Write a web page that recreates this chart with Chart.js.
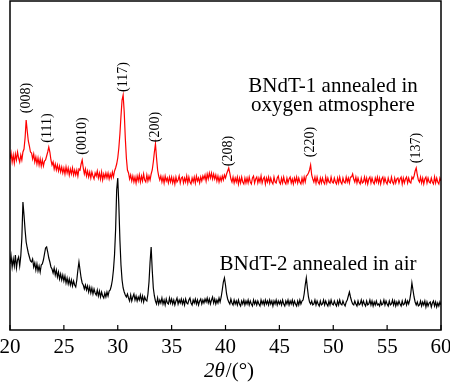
<!DOCTYPE html>
<html>
<head>
<meta charset="utf-8">
<script src="https://cdn.jsdelivr.net/npm/chart.js@4.4.1/dist/chart.umd.min.js"></script>
<style>
html,body{margin:0;padding:0;background:#fff;}
#wrap{width:450px;height:382px;position:relative;}
</style>
</head>
<body>
<div id="wrap"><canvas id="c" width="450" height="382"></canvas></div>
<script>
// 2theta grid: 20.0 .. 60.0 step 0.1
const twoTheta = [];
for (let i = 0; i <= 400; i++) twoTheta.push(+(20 + i * 0.1).toFixed(1));

// BNdT-1 annealed in oxygen atmosphere (red, offset upward), arbitrary intensity
const bndt1 = [
171,177,168,175,167,176,170,178,172,168,
175,170,178,181,192,210,199,189,184,178,
177,171,176,168,173,166,172,165,171,164,
170,164,169,170,174,178,183,178,170,165,
168,161,166,160,165,159,164,158,163,157,
162,156,163,157,162,155,161,156,162,155,
160,155,160,154,161,160,166,170,162,156,
161,154,159,153,158,152,158,154,151,157,
154,159,152,157,151,158,150,156,152,157,
152,157,151,156,152,158,153,159,162,166,
172,182,196,214,230,235,218,192,172,160,
157,151,155,149,154,148,153,147,154,149,
155,148,154,149,156,150,148,155,149,154,
150,156,160,168,178,186,172,160,154,150,
154,148,153,147,154,149,152,147,153,148,
153,147,152,146,153,148,150,154,147,152,
153,147,152,148,154,147,153,148,146,152,
148,153,147,154,149,152,147,153,149,154,
151,155,149,156,151,157,152,157,151,156,
151,155,149,154,148,153,149,154,150,155,
152,156,159,162,157,151,148,153,147,152,
148,153,146,152,147,153,148,146,152,147,
152,147,153,148,146,152,154,147,151,153,
147,152,148,154,147,151,153,146,152,148,
153,147,152,148,146,153,148,147,152,154,
148,146,152,147,153,148,146,152,147,151,
153,147,151,146,152,148,153,147,152,148,
146,152,147,153,148,154,155,157,160,165,
155,151,148,153,147,153,148,146,152,147,
152,148,146,153,147,152,148,147,153,148,
147,152,148,146,152,147,153,148,146,152,
148,147,153,148,152,147,153,153,156,151,
148,153,147,152,148,146,152,147,148,153,
147,152,146,151,153,147,152,148,146,152,
148,153,147,152,146,151,153,147,152,148,
146,152,148,147,153,148,146,152,147,151,
152,147,151,153,146,152,147,151,153,147,
152,148,147,153,151,154,159,162,155,150,
148,153,147,152,146,151,153,147,152,148,
147,152,148,146,153,147,152,148,146,152,
149
];

// BNdT-2 annealed in air (black)
const bndt2 = [
66,74,63,71,64,75,62,70,73,64,
74,92,128,115,100,88,82,77,73,69,
68,71,63,67,60,66,59,64,58,65,
66,70,76,82,83,78,72,68,63,61,
57,62,55,60,53,58,51,56,50,55,
49,54,47,52,46,51,45,50,44,49,
45,43,50,60,68,60,52,47,45,41,
45,40,44,38,43,37,42,36,41,37,
35,40,34,39,33,38,34,32,37,33,
38,34,39,40,44,50,60,75,100,140,
152,125,90,65,50,42,38,35,33,36,
32,29,35,29,33,36,30,34,29,33,
30,35,29,34,28,33,30,29,36,48,
68,83,60,42,34,29,26,32,26,30,
27,32,26,30,25,31,27,26,32,27,
31,26,30,25,29,32,26,30,27,31,
26,30,25,31,27,26,30,32,27,25,
30,27,31,26,30,25,29,31,26,30,
27,31,28,32,27,31,26,30,33,27,
31,26,30,27,32,28,33,40,48,52,
45,36,31,28,26,31,27,25,30,26,
29,25,30,26,24,29,26,30,25,29,
26,30,25,29,26,24,30,26,29,25,
29,26,24,30,26,29,25,30,26,29,
25,30,26,29,24,29,26,30,25,29,
26,29,25,30,26,24,29,26,30,25,
29,26,30,25,29,26,24,29,25,30,
26,29,30,36,45,52,42,33,28,26,
29,25,26,30,25,29,26,24,29,25,
26,30,25,29,26,24,29,25,30,26,
25,29,26,24,29,25,30,26,25,29,
26,24,28,30,34,38,33,29,26,25,
29,26,24,29,25,26,30,25,29,26,
24,29,25,26,30,25,29,24,28,25,
29,25,26,24,29,25,26,30,25,29,
26,24,29,25,26,30,25,29,24,28,
25,29,26,24,29,25,26,30,25,29,
26,30,37,47,40,33,28,25,28,24,
25,29,24,28,25,29,23,28,24,27,
28,23,27,29,24,28,23,27,24,28,
25
];

const xTicks = [20, 25, 30, 35, 40, 45, 50, 55, 60];
const peakLabels = ['(008)', '(111)', '(0010)', '(117)', '(200)', '(208)', '(220)', '(137)'];
const peakAt = [21.5, 23.5, 26.7, 30.5, 33.5, 40.3, 47.9, 57.7];
const peakLabelY = [98, 128, 136, 77, 127, 151, 142, 148];
const seriesNames = ['BNdT-1 annealed in oxygen atmosphere', 'BNdT-2 annealed in air'];

const serif = '"Liberation Serif", "Times New Roman", serif';

const decor = {
  id: 'decor',
  afterDraw(chart) {
    const ctx = chart.ctx, a = chart.chartArea, xs = chart.scales.x;
    ctx.save();
    // frame
    ctx.strokeStyle = '#000'; ctx.lineWidth = 1.5;
    ctx.strokeRect(a.left, a.top, a.right - a.left, a.bottom - a.top);
    // inward ticks and tick labels
    ctx.lineWidth = 1.2;
    ctx.fillStyle = '#000';
    ctx.font = '21px ' + serif;
    ctx.textAlign = 'center'; ctx.textBaseline = 'alphabetic';
    xTicks.forEach(v => {
      const px = xs.getPixelForValue(v);
      ctx.beginPath(); ctx.moveTo(px, a.bottom); ctx.lineTo(px, a.bottom - 5); ctx.stroke();
      ctx.fillText(String(v), px, a.bottom + 23);
    });
    // peak labels
    ctx.font = '14px ' + serif;
    ctx.textBaseline = 'middle';
    peakLabels.forEach((t, i) => {
      const px = xs.getPixelForValue(peakAt[i]);
      ctx.save(); ctx.translate(px, peakLabelY[i]); ctx.rotate(-Math.PI / 2);
      ctx.fillText(t, 0, 0); ctx.restore();
    });
    // series annotations
    ctx.font = '21px ' + serif;
    ctx.textBaseline = 'alphabetic';
    ctx.fillText('BNdT-1 annealed in', 333, 92);
    ctx.fillText('oxygen atmosphere', 333, 111);
    ctx.fillText(seriesNames[1], 318, 270);
    // axis title 2θ/(°)
    const p1 = '2θ', p2 = '/(°)';
    ctx.font = 'italic 21px ' + serif;
    const w1 = ctx.measureText(p1).width;
    ctx.font = '21px ' + serif;
    const w2 = ctx.measureText(p2).width;
    const cx = (a.left + a.right) / 2 + 3;
    const x0 = cx - (w1 + w2) / 2;
    ctx.textAlign = 'left';
    ctx.font = 'italic 21px ' + serif;
    ctx.fillText(p1, x0, 377);
    ctx.font = '21px ' + serif;
    ctx.fillText(p2, x0 + w1 + 1, 377);
    ctx.restore();
  }
};

new Chart(document.getElementById('c'), {
  type: 'line',
  data: {
    labels: twoTheta,
    datasets: [
      { label: seriesNames[0], data: twoTheta.map((x, i) => ({x, y: bndt1[i]})), borderColor: '#ff0000', borderWidth: 1.2, pointRadius: 0, tension: 0 },
      { label: seriesNames[1], data: twoTheta.map((x, i) => ({x, y: bndt2[i]})), borderColor: '#000000', borderWidth: 1.2, pointRadius: 0, tension: 0 }
    ]
  },
  options: {
    responsive: false,
    animation: false,
    events: [],
    layout: { autoPadding: false, padding: { left: 10, right: 9, top: 1, bottom: 52 } },
    plugins: { legend: { display: false }, tooltip: { enabled: false } },
    scales: {
      x: {
        type: 'linear', min: 20, max: 60,
        grid: { display: false, drawTicks: false },
        border: { display: false },
        ticks: { display: false }
      },
      y: { display: false, min: 0, max: 329 }
    }
  },
  plugins: [decor]
});
</script>
</body>
</html>
